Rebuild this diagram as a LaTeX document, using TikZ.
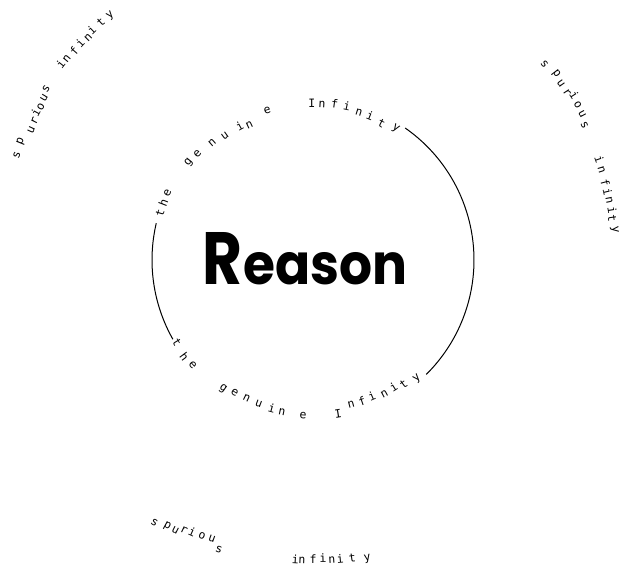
\documentclass[tikz,border=0pt]{standalone}
\usepackage{fontspec}
\usepackage{graphicx}
\newfontfamily\handfont{DejaVu Sans Mono}
\newfontfamily\reasonfont{Poppins}
\usetikzlibrary{calc}
\begin{document}
\begin{tikzpicture}[x=1pt,y=1pt,
  letter/.style={font=\handfont\fontsize{11.5}{11.5}\selectfont, inner sep=0pt, anchor=base},
  big/.style={inner sep=0pt, font=\reasonfont\bfseries},
  ring/.style={line width=1pt, black}]
\useasboundingbox (0,0) rectangle (624,576);
\coordinate (C) at (313,316);

% circle arcs
\coordinate (L1) at ($(C)+(166.8:161pt)$);
\draw[ring] (L1) arc[start angle=166.8, end angle=209.5, radius=161pt] coordinate (L2);
\coordinate (R1) at ($(C)+(55.1:161pt)$);
\draw[ring] (R1) arc[start angle=55.1, end angle=-45.3, radius=161pt] coordinate (R2);

% centre word
\node[big, anchor=south west] (reasonR) at (202,291) {\resizebox{40pt}{52pt}{R}};
\node[big, anchor=south west] (reasonrest) at (243,291) {\resizebox{164pt}{32pt}{eason}};

% top: the genuine Infinity
\foreach \ch/\ang/\rad [count=\i] in {t/163/156, h/159/156, e/155.3/157,
  g/141.7/156, e/137.3/154, n/130.8/151, u/125.4/149, i/118.8/148, n/115.2/146, e/107/153,
  I/90.4/153, n/86.7/153, f/82.1/153, i/77.5/153, n/72.7/151, i/68.4/151, t/63.4/149, y/57.8/153}
  \node[letter, rotate=\ang-90] (tg\i) at ($(C)+(\ang:\rad pt)$) {\ch};

% bottom: the genuine Infinity
\foreach \ch/\ang/\rad [count=\i] in {t/211.1/163, h/216.9/165, e/221.2/163,
  g/235/159, e/239.4/157, n/244.3/156, u/249.3/157, i/254.5/158, n/258.4/158, e/266.3/159,
  I/279.3/160, n/284.8/153, f/289.1/154, i/293.3/153, n/298.1/155, i/302.3/155, t/306/158, y/311.2/160}
  \node[letter, rotate=\ang+90] (bg\i) at ($(C)+(\ang:\rad pt)$) {\ch};

% top-left: spurious infinity
\foreach \ch/\ang/\rad [count=\i] in {s/160.5/311, p/157.9/313, u/155.3/307, r/153.5/308,
  i/151.9/310, o/150.7/309, u/148.9/311, s/147.3/314,
  i/142.2/315, n/140.7/315, f/138.8/313, i/137/314, n/135.3/313, i/133.9/315, t/131.7/315, y/129.7/315}
  \node[letter, rotate=\ang-90] (sl\i) at ($(C)+(\ang:\rad pt)$) {\ch};

% top-right: spurious infinity
\foreach \ch/\ang/\rad [count=\i] in {s/40.2/300, p/37.4/304, u/35.4/301, r/33.4/301,
  i/32.3/305, o/30.4/304, u/28.4/303, s/26.4/300,
  i/19.3/299, n/17.3/299, f/14.9/298, i/13/298, n/11.4/299, i/9.5/299, t/7.9/298, y/5.8/301}
  \node[letter, rotate=\ang-90] (sr\i) at ($(C)+(\ang:\rad pt)$) {\ch};

% bottom: spurious infinity
\foreach \ch/\ang/\rad [count=\i] in {s/238.9/310, p/241.3/306, u/243/306, r/244.5/303,
  i/246.1/302, o/248.1/301, u/250.1/300, s/252/308,
  i/266.6/304, n/267.9/304, f/270/303, i/271.9/303, n/273.6/304, i/275.2/304, t/277.5/305, y/280.3/306}
  \node[letter, rotate=\ang+90] (sb\i) at ($(C)+(\ang:\rad pt)$) {\ch};
\end{tikzpicture}
\end{document}
